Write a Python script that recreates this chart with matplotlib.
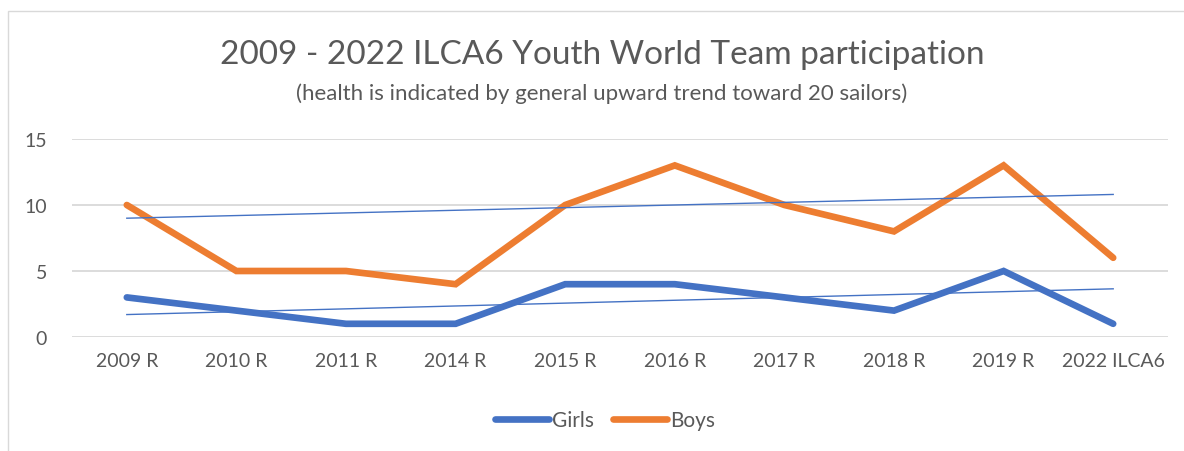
import numpy as np
import matplotlib.pyplot as plt
from matplotlib.patches import Rectangle

# chart values
years = ["2009 R", "2010 R", "2011 R", "2014 R", "2015 R", "2016 R",
         "2017 R", "2018 R", "2019 R", "2022 ILCA6"]
girls = [3, 2, 1, 1, 4, 4, 3, 2, 5, 1]
boys = [10, 5, 5, 4, 10, 13, 10, 8, 13, 6]
# trendline ends (first and last category)
girls_trend = [1.7, 3.65]
boys_trend = [9.0, 10.8]

BLUE = "#4472C4"
ORANGE = "#ED7D31"
GREY = "#595959"

plt.rcParams['font.family'] = ['Lato', 'DejaVu Sans']

fig = plt.figure(figsize=(11.84, 4.52), dpi=100)
fig.patches.append(Rectangle((8 / 1184, -0.1), 1.2, 1.1 - 12 / 452,
                             transform=fig.transFigure, fill=False,
                             edgecolor="#D9D9D9", linewidth=1))

ax = fig.add_axes([72 / 1184, (452 - 338) / 452, 1096 / 1184, 198 / 452])
x = np.arange(len(years))

ax.plot(x, girls, color=BLUE, lw=4.8, solid_capstyle="round",
        solid_joinstyle="miter", label="Girls", zorder=3)
ax.plot(x, boys, color=ORANGE, lw=4.8, solid_capstyle="round",
        solid_joinstyle="miter", label="Boys", zorder=3)
ax.plot([x[0], x[-1]], girls_trend, color=BLUE, lw=1, zorder=4)
ax.plot([x[0], x[-1]], boys_trend, color=BLUE, lw=1, zorder=4)

ax.set_xlim(-0.5, len(years) - 0.5)
ax.set_ylim(0, 15)
ax.set_yticks([0, 5, 10, 15])
ax.set_xticks(x)
ax.set_xticklabels(years)
ax.yaxis.grid(True, color="#D9D9D9", lw=1.3)
ax.set_axisbelow(True)
for s in ax.spines.values():
    s.set_visible(False)
ax.tick_params(length=0, labelsize=14, labelcolor=GREY)
ax.tick_params(axis="x", pad=11)
ax.tick_params(axis="y", pad=18)

fig.text(602 / 1184, 1 - 55 / 452,
         "2009 - 2022 ILCA6 Youth World Team participation",
         ha="center", va="center", fontsize=24, color=GREY)
fig.text(602 / 1184, 1 - 94 / 452,
         "(health is indicated by general upward trend toward 20 sailors)",
         ha="center", va="center", fontsize=16, color=GREY)

fig.legend(loc="center", bbox_to_anchor=(605 / 1184, 1 - 421 / 452),
           ncol=2, frameon=False, fontsize=15, labelcolor=GREY,
           handlelength=2.6, handletextpad=0.15, columnspacing=0.9)

fig.savefig("out.png", dpi=100)
